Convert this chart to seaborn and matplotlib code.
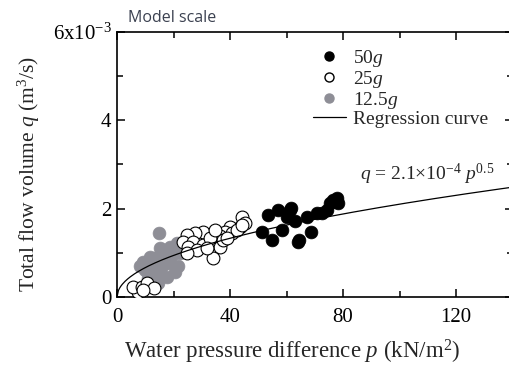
import numpy as np
import pandas as pd
import seaborn as sns
import matplotlib.pyplot as plt
from matplotlib.lines import Line2D
from matplotlib.ticker import FixedLocator, FuncFormatter

# Data (p in kN/m2, q in 1e-3 m3/s)
p_50g = [51.2, 54.8, 53.6, 57.1, 58.3, 60.1, 61.5, 63.0, 64.5, 67.1,
         68.6, 70.7, 72.5, 74.2, 75.4, 76.6, 78.0, 78.3, 61.2, 64.2]
q_50g = [1.48, 1.29, 1.86, 1.97, 1.52, 1.82, 2.01, 1.71, 1.28, 1.82,
         1.48, 1.89, 1.89, 1.97, 2.12, 2.20, 2.23, 2.12, 1.97, 1.25]

p_25g = [44.1, 45.3, 43.5, 40.0, 38.2, 36.5, 34.1, 30.5, 27.6, 24.6,
         23.5, 27.0, 30.5, 33.5, 36.5, 34.1, 37.6, 40.6, 42.3, 32.9,
         7.5, 5.8, 8.7, 10.5, 12.9, 9.3, 25.2, 28.2, 31.7, 34.7, 38.8, 44.1, 24.7]
q_25g = [1.82, 1.67, 1.59, 1.59, 1.48, 1.37, 1.44, 1.48, 1.44, 1.40,
         1.25, 1.25, 1.18, 1.14, 1.14, 0.88, 1.29, 1.44, 1.52, 1.33,
         0.12, 0.23, 0.23, 0.31, 0.20, 0.16, 1.14, 1.06, 1.10, 1.52, 1.33, 1.63, 0.99]

p_12g = [9.3, 9.9, 11.1, 12.3, 12.9, 14.0, 14.6, 15.8, 15.8, 16.4, 17.6,
         18.2, 18.8, 19.4, 21.1, 21.7, 22.3, 20.5, 11.7, 15.2, 8.1, 14.9]
q_12g = [0.80, 0.61, 0.42, 0.72, 0.88, 0.54, 0.31, 0.91, 0.69, 1.06, 0.46,
         0.76, 1.14, 0.95, 1.21, 0.69, 0.99, 0.57, 0.91, 1.10, 0.69, 1.44]

x_ticks = [0, 40, 80, 120]
y_ticks = [0, 2, 4, 6]

sns.set_style("ticks")
plt.rcParams['font.family'] = ['Liberation Serif', 'DejaVu Serif']
plt.rcParams['mathtext.fontset'] = 'custom'
plt.rcParams['mathtext.rm'] = 'Liberation Serif'
plt.rcParams['mathtext.it'] = 'Liberation Serif:italic'

gray = '#8e8e96'

fig = plt.figure(figsize=(5.09, 3.67), dpi=100)
ax = fig.add_axes([0.230, 0.191, 0.777, 0.722])

sns.scatterplot(x=p_12g, y=q_12g, ax=ax, s=85, color=gray, edgecolor=gray, linewidth=0.5, zorder=2)
sns.scatterplot(x=p_25g, y=q_25g, ax=ax, s=85, color='white', edgecolor='black', linewidth=0.8, zorder=3)
sns.scatterplot(x=p_50g, y=q_50g, ax=ax, s=85, color='black', edgecolor='black', linewidth=0.5, zorder=4)

# regression curve q = 2.1e-4 p^0.5
p_fit = np.linspace(0, 140, 300)
q_fit = 2.1e-4 * np.sqrt(p_fit) * 1e3
sns.lineplot(x=p_fit, y=q_fit, ax=ax, color='black', linewidth=0.9, zorder=5)

ax.set_xlim(0, 140)
ax.set_ylim(0, 6)
ax.xaxis.set_major_locator(FixedLocator(x_ticks))
ax.xaxis.set_minor_locator(FixedLocator([20, 60, 100, 140]))
ax.yaxis.set_major_locator(FixedLocator(y_ticks))
ax.yaxis.set_minor_locator(FixedLocator([1, 3, 5]))
ax.yaxis.set_major_formatter(FuncFormatter(
    lambda v, pos: r'6x10$^{-3}$' if v == 6 else f'{v:g}'))
ax.tick_params(which='both', direction='in', top=True, right=True,
               width=1.1, labelsize=15, colors='black')
ax.tick_params(which='major', length=6)
ax.tick_params(axis='x', which='major', pad=8)
ax.tick_params(axis='y', which='major', pad=4)
ax.tick_params(which='minor', length=4)
for sp in ax.spines.values():
    sp.set_linewidth(1.2)
    sp.set_color('black')

ax.set_xlabel(r'Water pressure difference $p$ (kN/m$^2$)', fontsize=16.5)
ax.xaxis.set_label_coords(0.443, -0.155)
ax.set_ylabel(r'Total flow volume $q$ (m$^3$/s)', fontsize=15.5)
ax.yaxis.set_label_coords(-0.19, 0.464)

handles = [
    Line2D([], [], marker='o', ls='none', markersize=6.5, markerfacecolor='black', markeredgecolor='black'),
    Line2D([], [], marker='o', ls='none', markersize=6.5, markerfacecolor='white', markeredgecolor='black'),
    Line2D([], [], marker='o', ls='none', markersize=6.5, markerfacecolor=gray, markeredgecolor=gray),
    Line2D([], [], color='black', linewidth=0.9),
]
ax.legend(handles, [r'50$g$', r'25$g$', r'12.5$g$', 'Regression curve'],
          loc='upper left', bbox_to_anchor=(0.475, 0.97), frameon=False,
          fontsize=14, handlelength=1.7, handletextpad=0.35, labelspacing=0.0,
          borderaxespad=0)

ax.text(0.615, 0.44, r'$q$ = 2.1$\times$10$^{-4}$ $p^{0.5}$', transform=ax.transAxes,
        fontsize=14)
fig.text(0.252, 0.94, 'Model scale', fontsize=11.5, color='#3b4150',
         family='Open Sans')

fig.savefig('out.png', dpi=100)
